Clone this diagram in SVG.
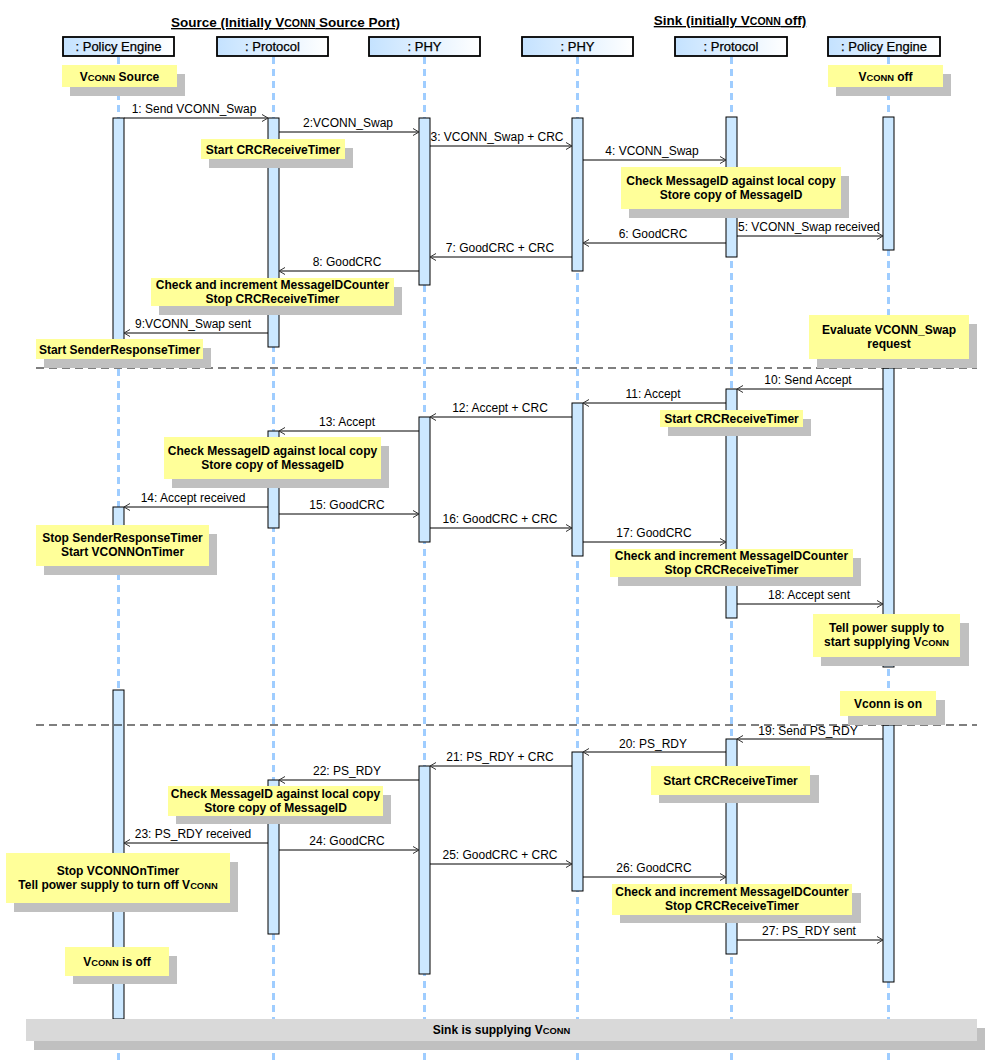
<svg xmlns="http://www.w3.org/2000/svg" width="988" height="1062" viewBox="0 0 988 1062">
<style>
text{font-family:"Liberation Sans",Arial,sans-serif;fill:#000}
.hdr{fill:url(#hg);stroke:#000;stroke-width:1.8}
.ht{font-size:13px;text-anchor:middle;stroke:#000;stroke-width:0.25}
.title{font-size:13.5px;font-weight:bold;text-anchor:middle;text-decoration:underline}
.life{stroke:#9FCDFF;stroke-width:3;stroke-dasharray:7 5;fill:none}
.act{fill:#CCE8FF;stroke:#000;stroke-width:1}
.msg{stroke:#000;stroke-width:1;fill:none;marker-end:url(#arr)}
.ml{font-size:12px;text-anchor:middle}
.note{fill:#FFFF99}
.shadow{fill:#C0C0C0}
.nt{font-size:12px;font-weight:bold;text-anchor:middle}
.sep{stroke:#000;stroke-width:1.2;stroke-dasharray:8 5}
.sc{font-size:0.78em}
</style>
<defs>
<linearGradient id="hg" x1="0" y1="0" x2="1" y2="0">
<stop offset="0" stop-color="#C4E2FF"/>
<stop offset="1" stop-color="#FFFFFF"/>
</linearGradient>
<marker id="arr" markerUnits="userSpaceOnUse" markerWidth="10" markerHeight="10" viewBox="-8 -5 10 10" refX="0" refY="0" orient="auto">
<path d="M-6,-3.5 L0,0 L-6,3.5" fill="none" stroke="#333" stroke-width="1"/>
</marker>
</defs>
<rect width="988" height="1062" fill="#fff"/>

<text class="title" x="285.5" y="27">Source (Initially V<tspan class="sc">CONN</tspan> Source Port)</text>
<text class="title" x="730" y="25">Sink (initially V<tspan class="sc">CONN</tspan> off)</text>

<g id="lifelines">
<line class="life" x1="118.5" y1="57" x2="118.5" y2="1062"/>
<line class="life" x1="273.5" y1="57" x2="273.5" y2="1062"/>
<line class="life" x1="424.5" y1="57" x2="424.5" y2="1062"/>
<line class="life" x1="577.5" y1="57" x2="577.5" y2="1062"/>
<line class="life" x1="731.5" y1="57" x2="731.5" y2="1062"/>
<line class="life" x1="888.5" y1="57" x2="888.5" y2="1062"/>
</g>

<g id="pe1">
<rect class="hdr" x="63" y="37" width="111" height="19"/>
<text class="ht" x="118.5" y="51">: Policy Engine</text>
<rect class="act" x="113" y="118" width="11" height="230"/>
<rect class="act" x="113" y="507" width="11" height="23"/>
<rect class="act" x="113" y="690" width="11" height="329"/>
</g>
<g id="proto1">
<rect class="hdr" x="217" y="37" width="111" height="19"/>
<text class="ht" x="272.5" y="51">: Protocol</text>
<rect class="act" x="268" y="118" width="11" height="229"/>
<rect class="act" x="268" y="431" width="11" height="97"/>
<rect class="act" x="268" y="780" width="11" height="154"/>
</g>
<g id="phy1">
<rect class="hdr" x="369" y="37" width="111" height="19"/>
<text class="ht" x="424.5" y="51">: PHY</text>
<rect class="act" x="419" y="118" width="11" height="167"/>
<rect class="act" x="419" y="417" width="11" height="125"/>
<rect class="act" x="419" y="766" width="11" height="208"/>
</g>
<g id="phy2">
<rect class="hdr" x="522" y="37" width="111" height="19"/>
<text class="ht" x="577.5" y="51">: PHY</text>
<rect class="act" x="572" y="118" width="11" height="153"/>
<rect class="act" x="572" y="403" width="11" height="153"/>
<rect class="act" x="572" y="752" width="11" height="139"/>
</g>
<g id="proto2">
<rect class="hdr" x="675" y="37" width="112" height="19"/>
<text class="ht" x="731" y="51">: Protocol</text>
<rect class="act" x="726" y="117" width="11" height="140"/>
<rect class="act" x="726" y="389" width="11" height="229"/>
<rect class="act" x="726" y="739" width="11" height="215"/>
</g>
<g id="pe2">
<rect class="hdr" x="828" y="37" width="112" height="19"/>
<text class="ht" x="884" y="51">: Policy Engine</text>
<rect class="act" x="883" y="117" width="11" height="133"/>
<rect class="act" x="883" y="368" width="11" height="299"/>
<rect class="act" x="883" y="725" width="11" height="257"/>
</g>

<g id="separators">
<line class="sep" x1="36" y1="368" x2="977" y2="368"/>
<line class="sep" x1="36" y1="725" x2="977" y2="725"/>
</g>

<g id="connectors">
<line class="msg" x1="124" y1="118" x2="268" y2="118"/><text class="ml" x="194" y="113">1: Send VCONN_Swap</text>
<line class="msg" x1="279" y1="132" x2="419" y2="132"/><text class="ml" x="348" y="127">2:VCONN_Swap</text>
<line class="msg" x1="430" y1="146" x2="572" y2="146"/><text class="ml" x="497" y="141">3: VCONN_Swap + CRC</text>
<line class="msg" x1="583" y1="160" x2="726" y2="160"/><text class="ml" x="652" y="155">4: VCONN_Swap</text>
<line class="msg" x1="737" y1="236" x2="883" y2="236"/><text class="ml" x="809" y="231">5: VCONN_Swap received</text>
<line class="msg" x1="726" y1="243" x2="583" y2="243"/><text class="ml" x="653" y="238">6: GoodCRC</text>
<line class="msg" x1="572" y1="257" x2="430" y2="257"/><text class="ml" x="500" y="252">7: GoodCRC + CRC</text>
<line class="msg" x1="419" y1="271" x2="279" y2="271"/><text class="ml" x="347" y="266">8: GoodCRC</text>
<line class="msg" x1="268" y1="333" x2="124" y2="333"/><text class="ml" x="193" y="328">9:VCONN_Swap sent</text>
<line class="msg" x1="883" y1="389" x2="737" y2="389"/><text class="ml" x="808" y="384">10: Send Accept</text>
<line class="msg" x1="726" y1="403" x2="583" y2="403"/><text class="ml" x="653" y="398">11: Accept</text>
<line class="msg" x1="572" y1="417" x2="430" y2="417"/><text class="ml" x="500" y="412">12: Accept + CRC</text>
<line class="msg" x1="419" y1="431" x2="279" y2="431"/><text class="ml" x="347" y="426">13: Accept</text>
<line class="msg" x1="268" y1="507" x2="124" y2="507"/><text class="ml" x="193" y="502">14: Accept received</text>
<line class="msg" x1="279" y1="514" x2="419" y2="514"/><text class="ml" x="347" y="509">15: GoodCRC</text>
<line class="msg" x1="430" y1="528" x2="572" y2="528"/><text class="ml" x="500" y="523">16: GoodCRC + CRC</text>
<line class="msg" x1="583" y1="542" x2="726" y2="542"/><text class="ml" x="654" y="537">17: GoodCRC</text>
<line class="msg" x1="737" y1="604" x2="883" y2="604"/><text class="ml" x="809" y="599">18: Accept sent</text>
<line class="msg" x1="883" y1="739" x2="737" y2="739"/><text class="ml" x="808" y="735">19: Send PS_RDY</text>
<line class="msg" x1="726" y1="752" x2="583" y2="752"/><text class="ml" x="653" y="748">20: PS_RDY</text>
<line class="msg" x1="572" y1="766" x2="430" y2="766"/><text class="ml" x="500" y="761">21: PS_RDY + CRC</text>
<line class="msg" x1="419" y1="780" x2="279" y2="780"/><text class="ml" x="347" y="775">22: PS_RDY</text>
<line class="msg" x1="268" y1="843" x2="124" y2="843"/><text class="ml" x="193" y="838">23: PS_RDY received</text>
<line class="msg" x1="279" y1="850" x2="419" y2="850"/><text class="ml" x="347" y="845">24: GoodCRC</text>
<line class="msg" x1="430" y1="864" x2="572" y2="864"/><text class="ml" x="500" y="859">25: GoodCRC + CRC</text>
<line class="msg" x1="583" y1="877" x2="726" y2="877"/><text class="ml" x="654" y="872">26: GoodCRC</text>
<line class="msg" x1="737" y1="940" x2="883" y2="940"/><text class="ml" x="809" y="935">27: PS_RDY sent</text>
</g>

<g id="n1"><rect class="shadow" x="70" y="74" width="115" height="22"/><rect class="note" x="62" y="65" width="115" height="22"/><text class="nt" x="119.5" y="80.5">V<tspan class="sc">CONN</tspan> Source</text></g>
<g id="n2"><rect class="shadow" x="836" y="74" width="115" height="22"/><rect class="note" x="828" y="65" width="115" height="22"/><text class="nt" x="885.5" y="80.5">V<tspan class="sc">CONN</tspan> off</text></g>
<g id="n3"><rect class="shadow" x="209" y="148" width="144" height="20"/><rect class="note" x="201" y="139" width="144" height="20"/><text class="nt" x="273" y="153.5">Start CRCReceiveTimer</text></g>
<g id="n4"><rect class="shadow" x="629" y="176" width="220" height="42"/><rect class="note" x="621" y="167" width="220" height="42"/><text class="nt" x="731" y="184.5">Check MessageID against local copy</text><text class="nt" x="731" y="198.5">Store copy of MessageID</text></g>
<g id="n5"><rect class="shadow" x="159" y="287" width="243" height="28"/><rect class="note" x="151" y="278" width="243" height="28"/><text class="nt" x="272.5" y="289">Check and increment MessageIDCounter</text><text class="nt" x="272.5" y="303">Stop CRCReceiveTimer</text></g>
<g id="n6"><rect class="shadow" x="44" y="348" width="167" height="20"/><rect class="note" x="36" y="339" width="167" height="20"/><text class="nt" x="119.5" y="353.5">Start SenderResponseTimer</text></g>
<g id="n7"><rect class="shadow" x="817" y="324" width="160" height="44"/><rect class="note" x="809" y="315" width="160" height="44"/><text class="nt" x="889" y="333.5">Evaluate VCONN_Swap</text><text class="nt" x="889" y="347.5">request</text></g>
<g id="n8"><rect class="shadow" x="668" y="419" width="143" height="17"/><rect class="note" x="660" y="410" width="143" height="17"/><text class="nt" x="731.5" y="422.5">Start CRCReceiveTimer</text></g>
<g id="n9"><rect class="shadow" x="172" y="446" width="217" height="42"/><rect class="note" x="164" y="437" width="217" height="42"/><text class="nt" x="272.5" y="454.5">Check MessageID against local copy</text><text class="nt" x="272.5" y="468.5">Store copy of MessageID</text></g>
<g id="n10"><rect class="shadow" x="44" y="534" width="173" height="41"/><rect class="note" x="36" y="525" width="173" height="41"/><text class="nt" x="122.5" y="542">Stop SenderResponseTimer</text><text class="nt" x="122.5" y="556">Start VCONNOnTimer</text></g>
<g id="n11"><rect class="shadow" x="618" y="558" width="243" height="28"/><rect class="note" x="610" y="549" width="243" height="28"/><text class="nt" x="731.5" y="559.5">Check and increment MessageIDCounter</text><text class="nt" x="731.5" y="574">Stop CRCReceiveTimer</text></g>
<g id="n12"><rect class="shadow" x="821" y="623" width="148" height="43"/><rect class="note" x="813" y="614" width="147" height="43"/><text class="nt" x="886.5" y="632">Tell power supply to</text><text class="nt" x="886.5" y="646">start supplying V<tspan class="sc">CONN</tspan></text></g>
<g id="n13"><rect class="shadow" x="848" y="700" width="97" height="25"/><rect class="note" x="840" y="691" width="96" height="25"/><text class="nt" x="888" y="707.5">Vconn is on</text></g>
<g id="n14"><rect class="shadow" x="659" y="775" width="160" height="28"/><rect class="note" x="651" y="766" width="159" height="29"/><text class="nt" x="730.5" y="784.5">Start CRCReceiveTimer</text></g>
<g id="n15"><rect class="shadow" x="176" y="795" width="215" height="29"/><rect class="note" x="168" y="786" width="215" height="30"/><text class="nt" x="275.5" y="797.5">Check MessageID against local copy</text><text class="nt" x="275.5" y="811.5">Store copy of MessageID</text></g>
<g id="n16"><rect class="shadow" x="14" y="862" width="224" height="50"/><rect class="note" x="6" y="853" width="224" height="50"/><text class="nt" x="118" y="874.5">Stop VCONNOnTimer</text><text class="nt" x="118" y="888.5">Tell power supply to turn off V<tspan class="sc">CONN</tspan></text></g>
<g id="n17"><rect class="shadow" x="620" y="893" width="241" height="30"/><rect class="note" x="612" y="884" width="240" height="31"/><text class="nt" x="732" y="896">Check and increment MessageIDCounter</text><text class="nt" x="732" y="910">Stop CRCReceiveTimer</text></g>
<g id="n18"><rect class="shadow" x="73" y="956" width="104" height="28"/><rect class="note" x="65" y="947" width="104" height="29"/><text class="nt" x="117" y="965.5">V<tspan class="sc">CONN</tspan> is off</text></g>

<g id="n19"><rect class="shadow" x="34" y="1028" width="951" height="22"/><rect x="26" y="1019" width="951" height="22" fill="#D9D9D9"/><text class="nt" x="501.5" y="1034">Sink is supplying V<tspan class="sc">CONN</tspan></text></g>
</svg>
